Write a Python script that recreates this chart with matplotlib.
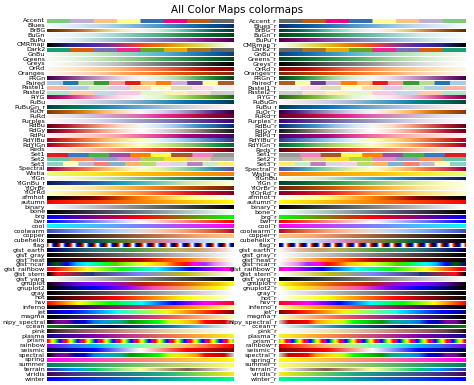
import numpy as np
import matplotlib
matplotlib.use("Agg")
import matplotlib.pyplot as plt

left_names = ["Accent", "Blues", "BrBG", "BuGn", "BuPu", "CMRmap", "Dark2", "GnBu",
              "Greens", "Greys", "OrRd", "Oranges", "PRGn", "Paired", "Pastel1",
              "Pastel2", "PiYG", "PuBu", "PuBuGn_r", "PuOr", "PuRd", "Purples",
              "RdBu", "RdGy", "RdPu", "RdYlBu", "RdYlGn", "Reds", "Set1", "Set2",
              "Set3", "Spectral", "Wistia", "YlGn", "YlGnBu_r", "YlOrBr", "YlOrRd",
              "afmhot", "autumn", "binary", "bone", "brg", "bwr", "cool", "coolwarm",
              "copper", "cubehelix", "flag", "gist_earth", "gist_gray", "gist_heat",
              "gist_ncar", "gist_rainbow", "gist_stern", "gist_yarg", "gnuplot",
              "gnuplot2", "gray", "hot", "hsv", "inferno", "jet", "magma",
              "nipy_spectral", "ocean", "pink", "plasma", "prism", "rainbow",
              "seismic", "spectral", "spring", "summer", "terrain", "viridis", "winter"]

right_names = ["Accent_r", "Blues_r", "BrBG_r", "BuGn_r", "BuPu_r", "CMRmap_r", "Dark2_r",
               "GnBu_r", "Greens_r", "Greys_r", "OrRd_r", "Oranges_r", "PRGn_r",
               "Paired_r", "Pastel1_r", "Pastel2_r", "PiYG_r", "PuBuGn", "PuBu_r",
               "PuOr_r", "PuRd_r", "Purples_r", "RdBu_r", "RdGy_r", "RdPu_r",
               "RdYlBu_r", "RdYlGn_r", "Reds_r", "Set1_r", "Set2_r", "Set3_r",
               "Spectral_r", "Wistia_r", "YlGnBu", "YlGn_r", "YlOrBr_r", "YlOrRd_r",
               "afmhot_r", "autumn_r", "binary_r", "bone_r", "brg_r", "bwr_r", "cool_r",
               "coolwarm_r", "copper_r", "cubehelix_r", "flag_r", "gist_earth_r",
               "gist_gray_r", "gist_heat_r", "gist_ncar_r", "gist_rainbow_r",
               "gist_stern_r", "gist_yarg_r", "gnuplot_r", "gnuplot2_r", "gray_r",
               "hot_r", "hsv_r", "inferno_r", "jet_r", "magma_r", "nipy_spectral_r",
               "ocean_r", "pink_r", "plasma_r", "prism_r", "rainbow_r", "seismic_r",
               "spectral_r", "spring_r", "summer_r", "terrain_r", "viridis_r", "winter_r"]

# old names that are gone from current matplotlib
renamed = {"spectral": "nipy_spectral", "spectral_r": "nipy_spectral_r"}

gradient = np.linspace(0, 1, 256)
gradient = np.vstack((gradient, gradient))

nrows = len(left_names)
fig, axes = plt.subplots(nrows, 2, figsize=(4.74, 3.85), dpi=100)
fig.subplots_adjust(left=47/474, right=465/474, top=1-19/385, bottom=1-381/385,
                    wspace=0.247, hspace=0.22)
fig.suptitle("All Color Maps colormaps", fontsize=7.5, y=0.988)

for col, names in enumerate([left_names, right_names]):
    for ax, name in zip(axes[:, col], names):
        cmap = plt.get_cmap(renamed.get(name, name))
        ax.imshow(gradient, aspect="auto", cmap=cmap)
        ax.text(-0.01, 0.5, name, va="center", ha="right", fontsize=4.6,
                transform=ax.transAxes)
        ax.set_axis_off()

fig.savefig("out.png", dpi=100)
